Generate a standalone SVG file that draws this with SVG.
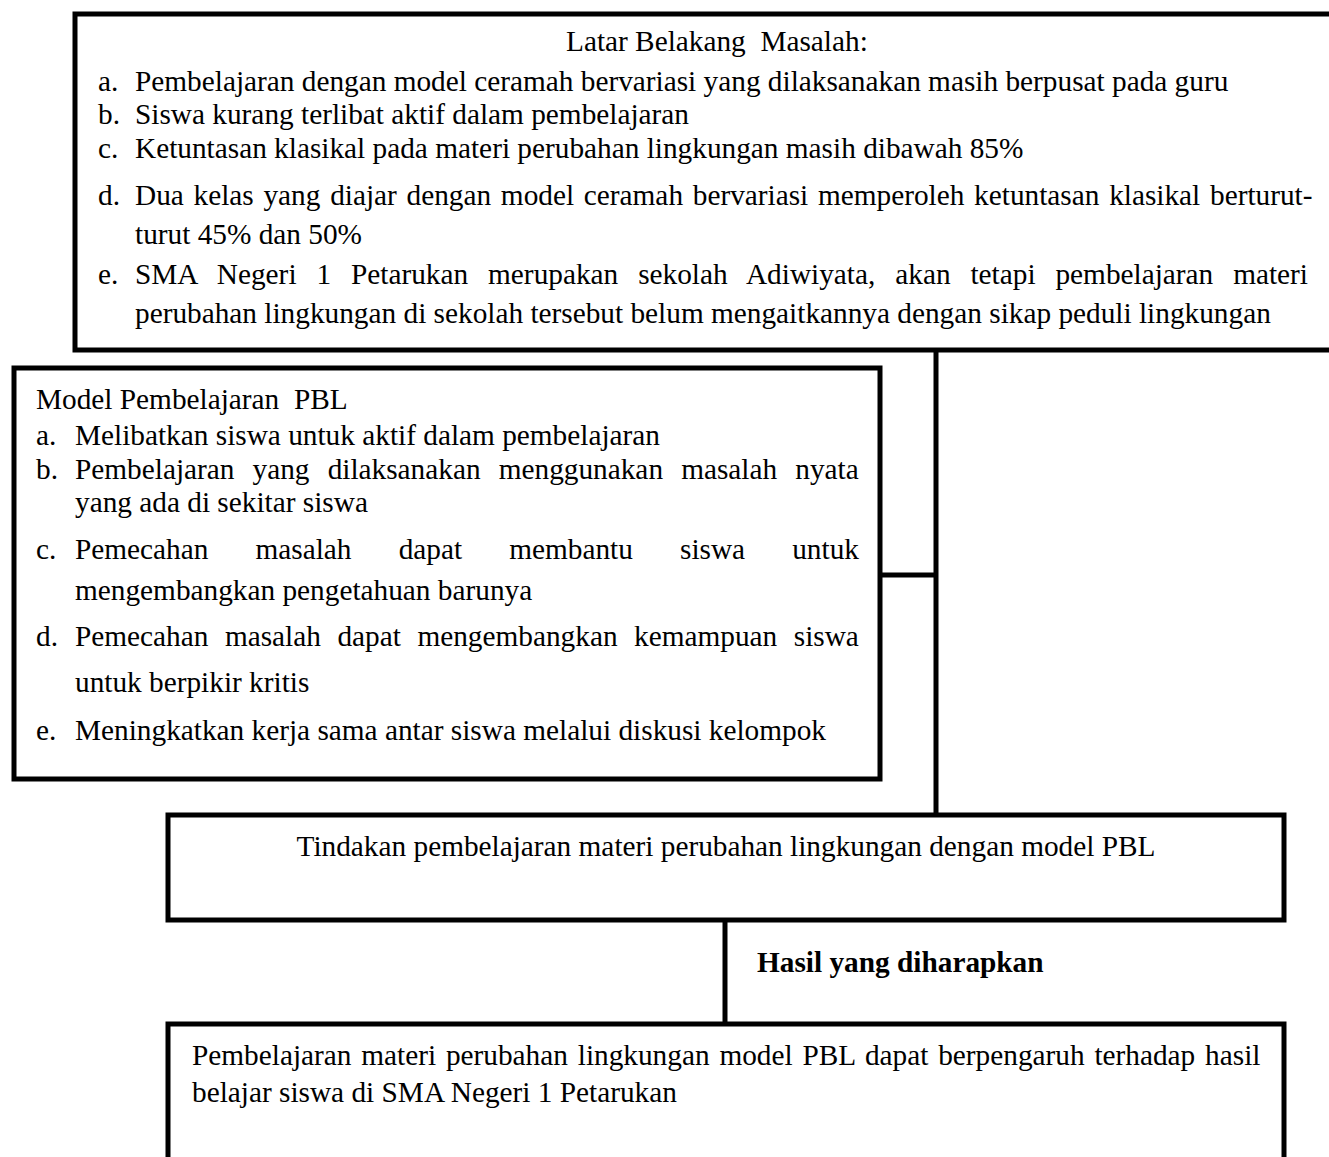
<svg xmlns="http://www.w3.org/2000/svg" width="1329" height="1157" viewBox="0 0 1329 1157">
<style>
.box{fill:#fff;stroke:#000;stroke-width:5}
.ln{stroke:#000;stroke-width:5;fill:none}
text{font-family:"Liberation Serif","Times New Roman",serif;font-size:29.3px;fill:#000}
.b{font-weight:bold}
</style>
<rect width="1329" height="1157" fill="#fff"/>
<g id="connectors">
<line class="ln" x1="936" y1="350" x2="936" y2="815"/>
<line class="ln" x1="880" y1="575" x2="936" y2="575"/>
<line class="ln" x1="725" y1="920" x2="725" y2="1024"/>
</g>
<g id="latar">
<rect class="box" x="75" y="14" width="1280" height="336"/>
<text x="566" y="51">Latar Belakang&#160; Masalah:</text>
<text x="98" y="91">a.</text><text x="135" y="91">Pembelajaran dengan model ceramah bervariasi yang dilaksanakan masih berpusat pada guru</text>
<text x="98" y="124">b.</text><text x="135" y="124">Siswa kurang terlibat aktif dalam pembelajaran</text>
<text x="98" y="158">c.</text><text x="135" y="158">Ketuntasan klasikal pada materi perubahan lingkungan masih dibawah 85%</text>
<text x="98" y="205">d.</text><text x="135" y="205" word-spacing="2.4">Dua kelas yang diajar dengan model ceramah bervariasi memperoleh ketuntasan klasikal berturut-</text>
<text x="135" y="244">turut 45% dan 50%</text>
<text x="98" y="284">e.</text><text x="135" y="284" word-spacing="12.6">SMA Negeri 1 Petarukan merupakan sekolah Adiwiyata, akan tetapi pembelajaran materi</text>
<text x="135" y="323">perubahan lingkungan di sekolah tersebut belum mengaitkannya dengan sikap peduli lingkungan</text>
</g>
<g id="model">
<rect class="box" x="14" y="368" width="866" height="411"/>
<text x="36" y="409">Model Pembelajaran&#160; PBL</text>
<text x="36" y="445">a.</text><text x="75" y="445">Melibatkan siswa untuk aktif dalam pembelajaran</text>
<text x="36" y="479">b.</text><text x="75" y="479" word-spacing="10.8">Pembelajaran yang dilaksanakan menggunakan masalah nyata</text>
<text x="75" y="512">yang ada di sekitar siswa</text>
<text x="36" y="559">c.</text><text x="75" y="559" word-spacing="39.8">Pemecahan masalah dapat membantu siswa untuk</text>
<text x="75" y="600">mengembangkan pengetahuan barunya</text>
<text x="36" y="646">d.</text><text x="75" y="646" word-spacing="9.2">Pemecahan masalah dapat mengembangkan kemampuan siswa</text>
<text x="75" y="692">untuk berpikir kritis</text>
<text x="36" y="740">e.</text><text x="75" y="740">Meningkatkan kerja sama antar siswa melalui diskusi kelompok</text>
</g>
<g id="tindakan">
<rect class="box" x="168" y="815" width="1116" height="105"/>
<text x="726" y="856" text-anchor="middle">Tindakan pembelajaran materi perubahan lingkungan dengan model PBL</text>
</g>
<g id="hasil-label">
<text class="b" x="757" y="972">Hasil yang diharapkan</text>
</g>
<g id="hasil">
<rect class="box" x="168" y="1024" width="1116" height="200"/>
<text x="192" y="1065" word-spacing="2.5">Pembelajaran materi perubahan lingkungan model PBL dapat berpengaruh terhadap hasil</text>
<text x="192" y="1102">belajar siswa di SMA Negeri 1 Petarukan</text>
</g>
</svg>
